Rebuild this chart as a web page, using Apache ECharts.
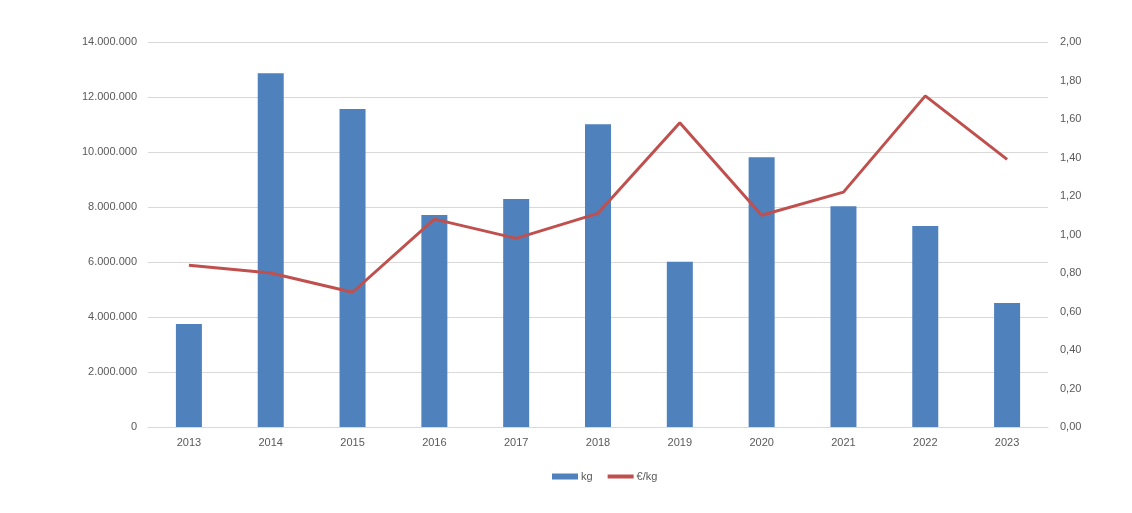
<!DOCTYPE html>
<html>
<head>
<meta charset="utf-8">
<script src="https://cdn.jsdelivr.net/npm/echarts@6/dist/echarts.min.js"></script>
<style>html,body{margin:0;padding:0;background:#fff}#c{width:1132px;height:513px}</style>
</head>
<body>
<div id="c"></div>
<script>
const years = ['2013','2014','2015','2016','2017','2018','2019','2020','2021','2022','2023'];
const kg = [3750000, 12860000, 11560000, 7710000, 8290000, 11010000, 6010000, 9810000, 8030000, 7310000, 4510000];
const eurPerKg = [0.84, 0.80, 0.70, 1.08, 0.98, 1.11, 1.58, 1.10, 1.22, 1.72, 1.39];

function fmtThousands(v){
  return String(Math.round(v)).replace(/\B(?=(\d{3})+(?!\d))/g, '.');
}
const txt = {color:'#595959', fontFamily:'Liberation Sans', fontSize:11};
const chart = echarts.init(document.getElementById('c'));
chart.setOption({
  animation:false,
  grid:{left:148, right:84, top:42, bottom:86, containLabel:false},
  legend:{
    bottom:26, left:547,
    itemWidth:26, itemHeight:6, itemGap:15,
    textStyle:Object.assign({}, txt, {padding:[0,0,0,-2]}),
    data:[{name:'kg', icon:'rect'}, {name:'€/kg', icon:'path://M0,0 L26,0 L26,4 L0,4 Z'}]
  },
  xAxis:{
    type:'category', data:years,
    axisLine:{lineStyle:{color:'#D9D9D9'}},
    axisTick:{show:false},
    axisLabel:Object.assign({}, txt, {margin:10})
  },
  yAxis:[
    {type:'value', min:0, max:14000000, interval:2000000,
     splitLine:{lineStyle:{color:'#D9D9D9'}},
     axisLine:{show:false}, axisTick:{show:false},
     axisLabel:Object.assign({}, txt, {margin:11, formatter:fmtThousands})},
    {type:'value', min:0, max:2, interval:0.2, position:'right',
     splitLine:{show:false},
     axisLine:{show:false}, axisTick:{show:false},
     axisLabel:Object.assign({}, txt, {margin:12, formatter:v=>v.toFixed(2).replace('.', ',')})}
  ],
  series:[
    {name:'kg', type:'bar', data:kg, barWidth:26, itemStyle:{color:'#4F81BD'}},
    {name:'€/kg', type:'line', yAxisIndex:1, data:eurPerKg, symbol:'none',
     lineStyle:{color:'#C0504D', width:3}, itemStyle:{color:'#C0504D'}}
  ]
});
</script>
</body>
</html>
